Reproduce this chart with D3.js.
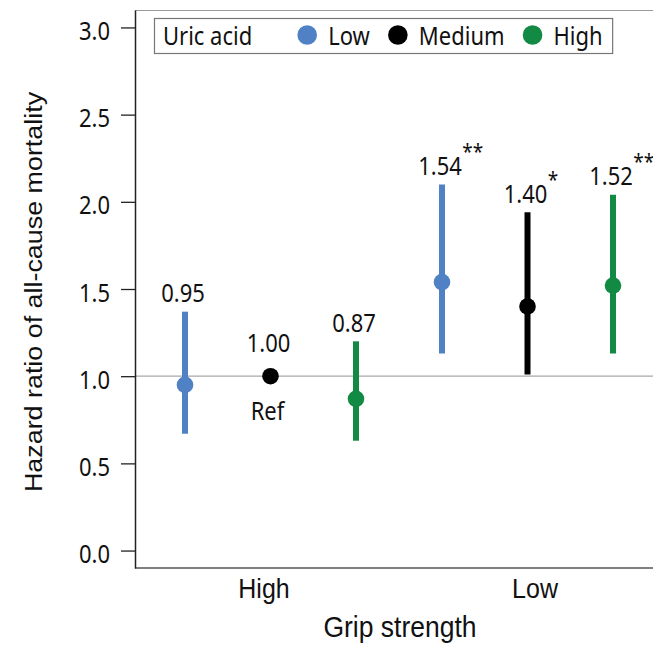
<!DOCTYPE html>
<html>
<head>
<meta charset="utf-8">
<script src="https://cdn.jsdelivr.net/npm/d3@7"></script>
<style>
  html, body { margin: 0; padding: 0; background: #fff; }
  svg { display: block; }
</style>
</head>
<body>
<svg id="chart" width="653" height="647"></svg>
<script>
// Grip strength groups along the x axis, uric acid levels within each group
const gripGroups = ["High", "Low"];
const uricLevels = ["Low", "Medium", "High"];
const levelColors = ["#4f81c4", "#000000", "#138a43"];

// Hazard ratios and 95% CI, one array per grip group (order follows uricLevels)
const hrHighGrip = [0.95, 1.00, 0.87];
const lowerHighGrip = [0.67, null, 0.63];
const upperHighGrip = [1.37, null, 1.20];
const sigHighGrip = ["", "", ""];

const hrLowGrip = [1.54, 1.40, 1.52];
const lowerLowGrip = [1.13, 1.01, 1.13];
const upperLowGrip = [2.10, 1.94, 2.04];
const sigLowGrip = ["**", "*", "**"];

const yTicks = [0.0, 0.5, 1.0, 1.5, 2.0, 2.5, 3.0];
const refValue = 1.0;
const refLabel = "Ref";
const legendTitle = "Uric acid";
const xTitle = "Grip strength";
const yTitle = "Hazard ratio of all-cause mortality";

const rows = [];
[[hrHighGrip, lowerHighGrip, upperHighGrip, sigHighGrip],
 [hrLowGrip, lowerLowGrip, upperLowGrip, sigLowGrip]].forEach(([hr, lo, hi, sig], gi) => {
  uricLevels.forEach((lvl, li) => {
    rows.push({ group: gripGroups[gi], level: lvl, color: levelColors[li],
                hr: hr[li], lo: lo[li], hi: hi[li], sig: sig[li] });
  });
});

const svg = d3.select("#chart");
const TEXT_STRETCH = 1.12;   // glyphs are drawn slightly taller than wide
const numFont = "'Noto Sans', 'Open Sans', sans-serif";
const titleFont = "'Liberation Sans', Arial, sans-serif";

const plotLeft = 135, plotRight = 670, plotTop = 10, plotBottom = 568;

const y = d3.scaleLinear().domain([-0.1, 3.1]).range([plotBottom, plotTop]);
const xGroup = d3.scaleBand().domain(gripGroups).range([142, 656]);
const xLevel = d3.scalePoint().domain(uricLevels).range([-85.5, 85.5]);
const xAxisScale = d3.scalePoint().domain(gripGroups).range([264, 535]);
const cx = d => xGroup(d.group) + xGroup.bandwidth() / 2 + xLevel(d.level);

function stretched(sel, x, yPos, extra) {
  sel.attr("transform", `translate(${x},${yPos}) scale(1,${TEXT_STRETCH})` + (extra || ""));
}

// frame: top border and reference line
svg.append("line")
  .attr("x1", plotLeft).attr("x2", plotRight)
  .attr("y1", plotTop + 0.5).attr("y2", plotTop + 0.5)
  .attr("stroke", "#9a9a9a").attr("stroke-width", 1.2);

svg.append("line")
  .attr("x1", plotLeft).attr("x2", plotRight)
  .attr("y1", y(refValue)).attr("y2", y(refValue))
  .attr("stroke", "#a8a8a8").attr("stroke-width", 1.2);

// bottom axis line
svg.append("line")
  .attr("x1", plotLeft).attr("x2", plotRight)
  .attr("y1", plotBottom).attr("y2", plotBottom)
  .attr("stroke", "#555").attr("stroke-width", 1.5);

// y axis
const yAxis = svg.append("g")
  .attr("transform", `translate(${plotLeft},0)`)
  .call(d3.axisLeft(y).tickValues(yTicks).tickFormat(d3.format(".1f"))
        .tickSize(14).tickSizeOuter(0).tickPadding(11));
yAxis.select(".domain").attr("stroke", "#222").attr("stroke-width", 1.5);
yAxis.selectAll(".tick line").attr("stroke", "#222").attr("stroke-width", 1.3);
yAxis.selectAll(".tick text")
  .attr("font-family", numFont).attr("font-size", 22).attr("fill", "#111")
  .attr("dy", null).attr("x", null)
  .each(function () { stretched(d3.select(this), -25, 12); });

// x category labels
svg.append("g").selectAll("text").data(gripGroups).join("text")
  .attr("font-family", titleFont).attr("font-size", 25).attr("fill", "#111")
  .attr("text-anchor", "middle")
  .text(d => d)
  .each(function (d) { stretched(d3.select(this), xAxisScale(d), 598); });

// axis titles
svg.append("text")
  .attr("font-family", titleFont).attr("font-size", 26.5).attr("fill", "#111")
  .attr("text-anchor", "middle").text(xTitle)
  .call(s => stretched(s, 400, 637));

svg.append("text")
  .attr("font-family", titleFont).attr("font-size", 24).attr("fill", "#111")
  .attr("text-anchor", "middle").text(yTitle)
  .call(s => s.attr("transform", `translate(42,292) rotate(-90) scale(${TEXT_STRETCH},1)`));

// confidence intervals
const marks = svg.append("g");
marks.selectAll("line.ci").data(rows.filter(d => d.lo != null)).join("line")
  .attr("class", "ci")
  .attr("x1", cx).attr("x2", cx)
  .attr("y1", d => y(d.lo)).attr("y2", d => y(d.hi))
  .attr("stroke", d => d.color).attr("stroke-width", 6);

// point estimates
marks.selectAll("circle.pt").data(rows).join("circle")
  .attr("class", "pt")
  .attr("cx", cx).attr("cy", d => y(d.hr)).attr("r", 8.3)
  .attr("fill", d => d.color);

// value labels above each interval (or above the reference point),
// with significance stars set as a superscript just past the label's right edge
const labelBase = d => (d.hi != null ? y(d.hi) - 9.5 : y(d.hr) - 24.5);
const vals = marks.selectAll("text.val").data(rows).join("text")
  .attr("class", "val")
  .attr("font-family", numFont).attr("font-size", 22).attr("fill", "#111")
  .each(function (d) { stretched(d3.select(this), 0, labelBase(d)); });
const nums = vals.append("tspan")
  .attr("x", d => cx(d) - 2).attr("text-anchor", "middle")
  .text(d => d.hr.toFixed(2));
vals.filter(d => d.sig).each(function (d) {
  const numWidth = d3.select(this).select("tspan").node().getComputedTextLength();
  d3.select(this).append("tspan")
    .attr("x", cx(d) - 2 + numWidth / 2 + 0.5).attr("dy", -16 / TEXT_STRETCH)
    .attr("font-size", 19)
    .attr("text-anchor", "start")
    .text(d.sig);
});

// reference label under the reference point
rows.filter(d => d.lo == null && d.hr === refValue).forEach(d => {
  marks.append("text")
    .attr("font-family", numFont).attr("font-size", 22).attr("fill", "#111")
    .attr("text-anchor", "middle").text(refLabel)
    .call(s => stretched(s, cx(d) - 3, y(d.hr) + 44));
});

// legend
const legend = svg.append("g");
const legendBaseline = 45, legendCy = 35;
const titleText = legend.append("text")
  .attr("font-family", numFont).attr("font-size", 22).attr("fill", "#111")
  .text(legendTitle).call(s => stretched(s, 163, legendBaseline));
let cursor = 163 + titleText.node().getComputedTextLength() + 55;
let legendEnd = cursor;
uricLevels.forEach((lvl, i) => {
  const c = cursor;
  legend.append("circle").attr("cx", c).attr("cy", legendCy).attr("r", 9.8)
    .attr("fill", levelColors[i]);
  const t = legend.append("text")
    .attr("font-family", numFont).attr("font-size", 22).attr("fill", "#111")
    .text(lvl).call(s => stretched(s, c + 21, legendBaseline));
  legendEnd = c + 21 + t.node().getComputedTextLength();
  cursor = legendEnd + 28;
});
legend.insert("rect", ":first-child")
  .attr("x", 154.5).attr("y", 18.5)
  .attr("width", legendEnd + 10 - 154.5).attr("height", 35)
  .attr("fill", "#fff").attr("stroke", "#777").attr("stroke-width", 1.2);
</script>
</body>
</html>
